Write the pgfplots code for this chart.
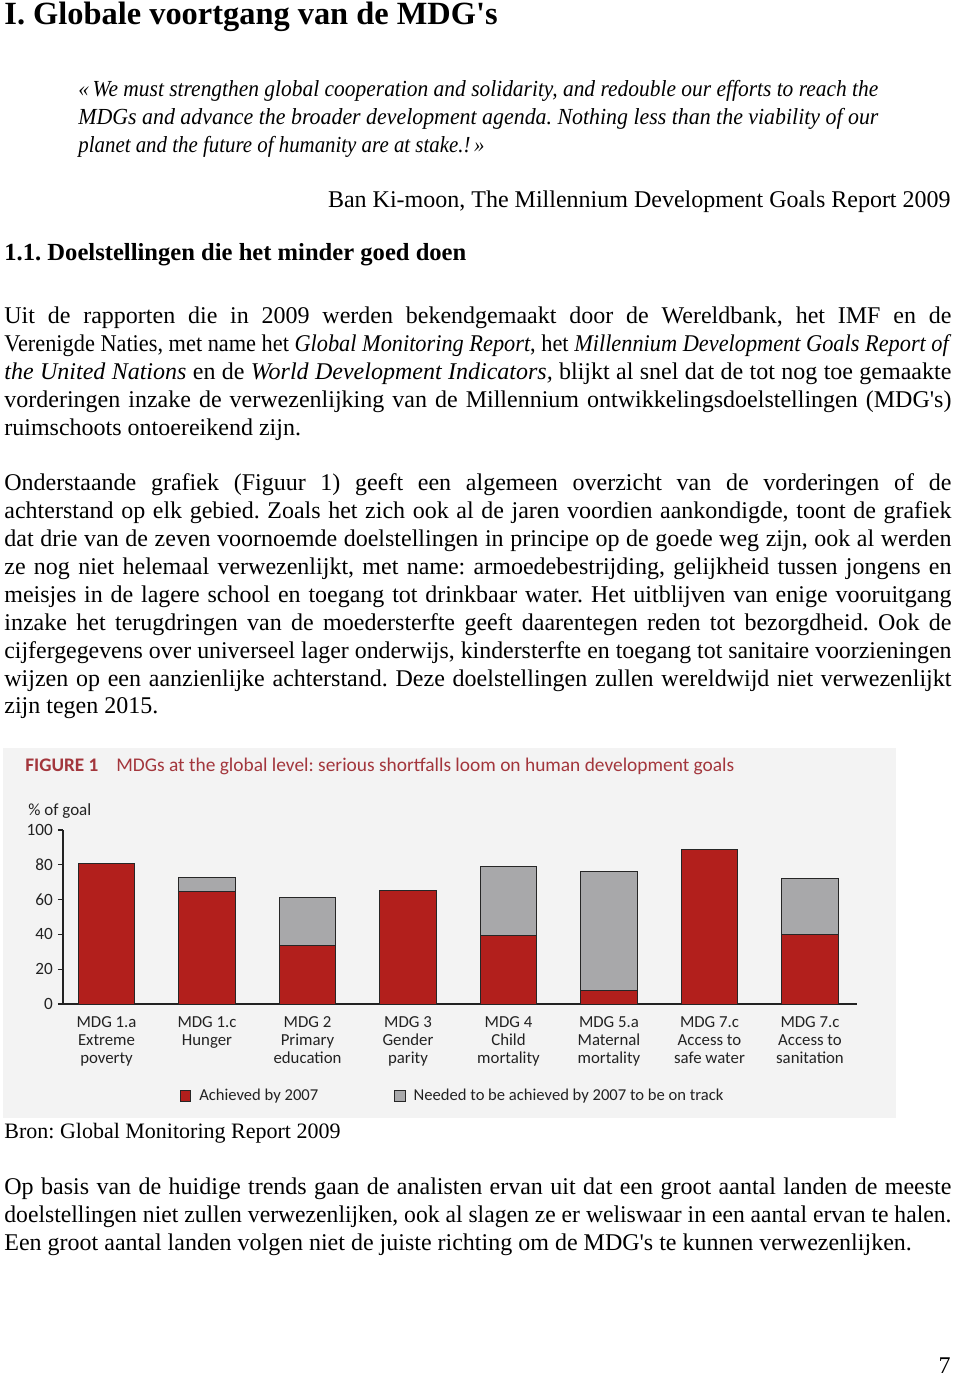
\documentclass[border=0pt]{standalone}
\usepackage{fontspec}
\setmainfont{Liberation Serif}
\newfontfamily\chartfont{Carlito}
\usepackage{graphicx}
\usepackage{pgfplots}
\pgfplotsset{compat=1.18}

\definecolor{mdgred}{HTML}{B21F1C}
\definecolor{mdggray}{HTML}{A8A8AA}
\definecolor{panel}{HTML}{F3F3F3}
\definecolor{titlered}{HTML}{A3363C}
\definecolor{charttext}{HTML}{222222}

\newcommand{\ap}{\textquotesingle}
% a line set to a given width: spaces stretched, or squeezed if it is too wide
\newsavebox\jbox
\newcommand{\fitline}[2]{\sbox\jbox{#2}%
  \ifdim\wd\jbox>#1\relax\resizebox{#1}{\height}{\usebox\jbox}\else\makebox[#1][s]{#2}\fi}
\newcommand{\jline}[2]{\node[anchor=base west, inner sep=0pt] at (4,#1) {\fitline{473.5pt}{#2}};}
\newcommand{\lline}[2]{\node[anchor=base west, inner sep=0pt] at (4,#1) {#2};}
\newcommand{\qline}[2]{\node[anchor=base west, inner sep=0pt] at (78,#1) {\itshape\fitline{400pt}{#2}};}

\begin{document}
\frenchspacing
\begin{tikzpicture}[x=0.5pt, y=-0.5pt]
\fill[white] (0,0) rectangle (960,1380);
\useasboundingbox (0,0) rectangle (960,1380);

% headings and quote
\node[anchor=base west, inner sep=0pt] at (4,25) {\fontsize{16.2}{18}\selectfont\bfseries I. Globale voortgang van de MDG\ap s};
\begingroup\fontsize{11.5}{13}\selectfont
\qline{97}{«\,We must strengthen global cooperation and solidarity, and redouble our efforts to reach the}
\qline{125}{MDGs and advance the broader development agenda. Nothing less than the viability of our}
\node[anchor=base west, inner sep=0pt] at (78,153) {\itshape\resizebox{203pt}{\height}{planet and the future of humanity are at stake.!\,»}};
\endgroup
\node[anchor=base east, inner sep=0pt] at (951,208) {\fontsize{12}{14}\selectfont Ban Ki-moon, The Millennium Development Goals Report 2009};
\node[anchor=base west, inner sep=0pt] at (4,260) {\fontsize{12.3}{14}\selectfont\bfseries 1.1. Doelstellingen die het minder goed doen};

\begingroup\fontsize{12}{14}\selectfont
\jline{323}{Uit de rapporten die in 2009 werden bekendgemaakt door de Wereldbank, het IMF en de}
\jline{351}{Verenigde Naties, met name het \textit{Global Monitoring Report}, het \textit{Millennium Development Goals Report of}}
\jline{379}{\textit{the United Nations} en de \textit{World Development Indicators,} blijkt al snel dat de tot nog toe gemaakte}
\jline{407}{vorderingen inzake de verwezenlijking van de Millennium ontwikkelingsdoelstellingen (MDG\ap s)}
\lline{435}{ruimschoots ontoereikend zijn.}

\jline{490}{Onderstaande grafiek (Figuur 1) geeft een algemeen overzicht van de vorderingen of de}
\jline{518}{achterstand op elk gebied. Zoals het zich ook al de jaren voordien aankondigde, toont de grafiek}
\jline{546}{dat drie van de zeven voornoemde doelstellingen in principe op de goede weg zijn, ook al werden}
\jline{574}{ze nog niet helemaal verwezenlijkt, met name: armoedebestrijding, gelijkheid tussen jongens en}
\jline{602}{meisjes in de lagere school en toegang tot drinkbaar water. Het uitblijven van enige vooruitgang}
\jline{630}{inzake het terugdringen van de moedersterfte geeft daarentegen reden tot bezorgdheid. Ook de}
\jline{658}{cijfergegevens over universeel lager onderwijs, kindersterfte en toegang tot sanitaire voorzieningen}
\jline{686}{wijzen op een aanzienlijke achterstand. Deze doelstellingen zullen wereldwijd niet verwezenlijkt}
\lline{713}{zijn tegen 2015.}

\lline{1138}{\fontsize{11}{13}\selectfont Bron: Global Monitoring Report 2009}

\jline{1194}{Op basis van de huidige trends gaan de analisten ervan uit dat een groot aantal landen de meeste}
\jline{1222}{doelstellingen niet zullen verwezenlijken, ook al slagen ze er weliswaar in een aantal ervan te halen.}
\lline{1250}{Een groot aantal landen volgen niet de juiste richting om de MDG\ap s te kunnen verwezenlijken.}

\node[anchor=base east, inner sep=0pt] at (951,1373) {7};
\endgroup

% chart panel
\fill[panel] (3,748) rectangle (896,1118);
\node[anchor=base west, inner sep=0pt, text=titlered] at (25,771)
  {\chartfont\fontsize{9.6}{11}\selectfont\bfseries FIGURE 1};
\node[anchor=base west, inner sep=0pt, text=titlered] at (116,771)
  {\chartfont\fontsize{9.7}{11}\selectfont MDGs at the global level: serious shortfalls loom on human development goals};
\node[anchor=base west, inner sep=0pt, text=charttext] at (28,815)
  {\chartfont\fontsize{8.5}{10}\selectfont\% of goal};

\coordinate (axorig) at (63,1004);
\begin{axis}[
    at={(axorig)}, anchor=south west,
    scale only axis, width=397pt, height=87pt,
    xmin=-0.433, xmax=7.468, ymin=0, ymax=100,
    ybar stacked, bar width=0.562,
    axis x line*=bottom, axis y line*=left,
    axis line style={charttext, line width=0.6pt, -},
    ytick={0,20,40,60,80,100},
    tick align=outside, major tick length=2.6pt,
    ytick style={charttext, line width=0.6pt},
    xtick={0,1,2,3,4,5,6,7}, xtick style={draw=none},
    xticklabels={{MDG 1.a\\Extreme\\poverty}, {MDG 1.c\\Hunger}, {MDG 2\\Primary\\education},
      {MDG 3\\Gender\\parity}, {MDG 4\\Child\\mortality}, {MDG 5.a\\Maternal\\mortality},
      {MDG 7.c\\Access to\\safe water}, {MDG 7.c\\Access to\\sanitation}},
    xticklabel style={font=\chartfont\fontsize{8.4}{9.2}\selectfont, align=center, text=charttext},
    yticklabel style={font=\chartfont\fontsize{8.6}{10}\selectfont, text=charttext, xshift=1pt},
    /pgf/number format/assume math mode=true,
    legend columns=2,
    legend style={at={(0.492,-0.529)}, anchor=center, draw=none, fill=none,
      font=\chartfont\fontsize{8.3}{10}\selectfont, text=charttext},
    /tikz/every odd column/.append style={column sep=2pt},
    /tikz/every even column/.append style={column sep=36pt},
    legend image code/.code={\draw[#1] (0pt,-2.6pt) rectangle (5.2pt,2.6pt);},
]
\addplot[fill=mdgred, draw=black!85, line width=0.5pt] coordinates {
    (0,80.5) (1,64.4) (2,33.7) (3,65.5) (4,39.3) (5,8.0) (6,88.9) (7,40.2)
};
\addlegendentry{Achieved by 2007}
\addplot[fill=mdggray, draw=black!85, line width=0.5pt] coordinates {
    (0,0) (1,8.4) (2,27.8) (3,0) (4,39.8) (5,67.9) (6,0) (7,32.0)
};
\addlegendentry{Needed to be achieved by 2007 to be on track}
\end{axis}
\end{tikzpicture}
\end{document}
